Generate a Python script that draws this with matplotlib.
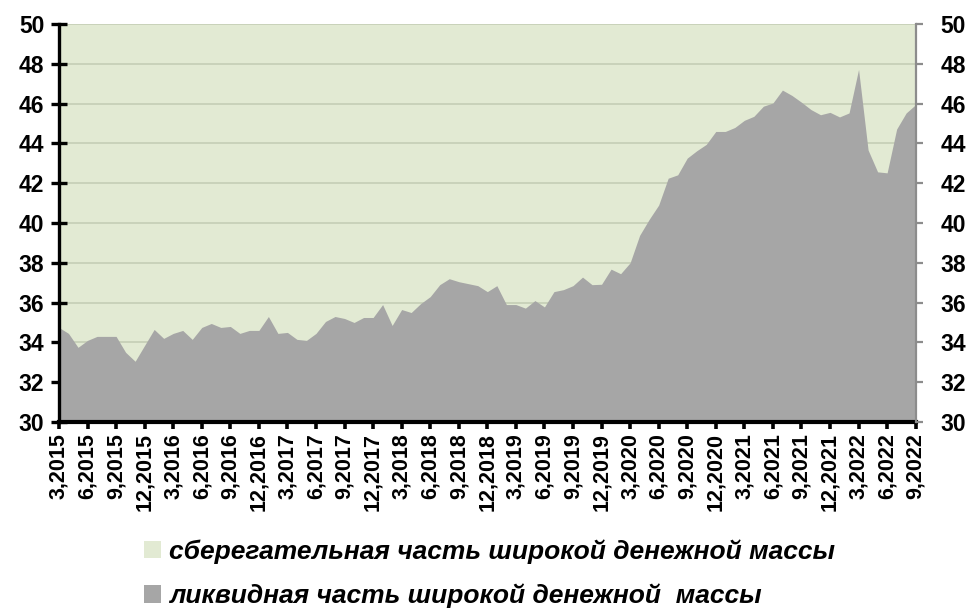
import matplotlib.pyplot as plt
from matplotlib.patches import Patch

# liquid share of broad money, %, monthly 3.2015 .. 9.2022
liquid = [34.75, 34.45, 33.75, 34.1, 34.3, 34.3, 34.3, 33.5, 33.05, 33.85,
          34.65, 34.2, 34.45, 34.6, 34.15, 34.75, 34.95, 34.75, 34.8, 34.45,
          34.6, 34.6, 35.3, 34.45, 34.5, 34.15, 34.1, 34.45, 35.05, 35.3,
          35.2, 35.0, 35.25, 35.25, 35.9, 34.85, 35.65, 35.5, 35.95, 36.3,
          36.9, 37.2, 37.05, 36.95, 36.85, 36.55, 36.85, 35.9, 35.9, 35.72,
          36.1, 35.78, 36.55, 36.65, 36.85, 37.28, 36.9, 36.92, 37.68, 37.45,
          38.0, 39.38, 40.18, 40.9, 42.25, 42.42, 43.26, 43.63, 43.95, 44.6,
          44.6, 44.8, 45.16, 45.36, 45.87, 46.03, 46.68, 46.41, 46.07, 45.7,
          45.44, 45.56, 45.33, 45.53, 47.72, 43.67, 42.57, 42.52, 44.72, 45.53,
          45.95]

tick_labels = ["3,2015", "6,2015", "9,2015", "12,2015",
               "3,2016", "6,2016", "9,2016", "12,2016",
               "3,2017", "6,2017", "9,2017", "12,2017",
               "3,2018", "6,2018", "9,2018", "12,2018",
               "3,2019", "6,2019", "9,2019", "12,2019",
               "3,2020", "6,2020", "9,2020", "12,2020",
               "3,2021", "6,2021", "9,2021", "12,2021",
               "3,2022", "6,2022", "9,2022"]

label_saving = "сберегательная часть широкой денежной массы"
label_liquid = "ликвидная часть широкой денежной  массы"

green = "#E2EAD3"
grey = "#A6A6A6"

plt.rcParams['font.family'] = ['Liberation Sans', 'DejaVu Sans']

fig = plt.figure(figsize=(9.7, 6.08), dpi=100)
ax = fig.add_axes([0.0608, 0.306, 0.8832, 0.6545])

x = list(range(len(liquid)))
ax.set_facecolor(green)
ax.set_xlim(0, len(liquid) - 1)
ax.set_ylim(30, 50)

yt = list(range(30, 51, 2))
for v in yt[1:]:
    ax.axhline(v, color="#C9D2BA", lw=1.4, zorder=1)
ax.fill_between(x, 30, liquid, color=grey, lw=0, zorder=2)

ax.set_xticks(list(range(0, len(liquid), 3)))
ax.set_xticklabels(tick_labels, rotation=90, fontsize=15.5, fontweight="bold")
ax.set_yticks(yt)
ax.set_yticklabels([str(v) for v in yt], fontsize=16.5, fontweight="bold")

ax.spines["top"].set_visible(False)
ax.spines["right"].set_visible(False)
ax.spines["left"].set_linewidth(2.4)
ax.spines["bottom"].set_linewidth(3.0)
ax.tick_params(axis="y", direction="inout", length=11, width=2.4, pad=5)
ax.tick_params(axis="x", direction="out", length=5, width=2.6, pad=3)

ax2 = ax.twinx()
ax2.set_ylim(30, 50)
ax2.set_yticks(yt)
ax2.set_yticklabels([str(v) for v in yt], fontsize=16.5, fontweight="bold")
for s in ["top", "left", "bottom"]:
    ax2.spines[s].set_visible(False)
ax2.spines["right"].set_color("#8C8C8C")
ax2.spines["right"].set_linewidth(1.6)
ax2.tick_params(axis="y", direction="out", length=5, width=1.6, color="#8C8C8C", pad=13)

handles = [Patch(facecolor=green, edgecolor="none"), Patch(facecolor=grey, edgecolor="none")]
fig.legend(handles, [label_saving, label_liquid], loc="upper left",
           bbox_to_anchor=(0.148, 0.113), frameon=False,
           prop={"size": 19, "weight": "bold", "style": "italic"},
           handlelength=0.65, handleheight=0.65, handletextpad=0.3, labelspacing=0.75,
           borderpad=0, borderaxespad=0)

fig.savefig("out.png", dpi=100)
